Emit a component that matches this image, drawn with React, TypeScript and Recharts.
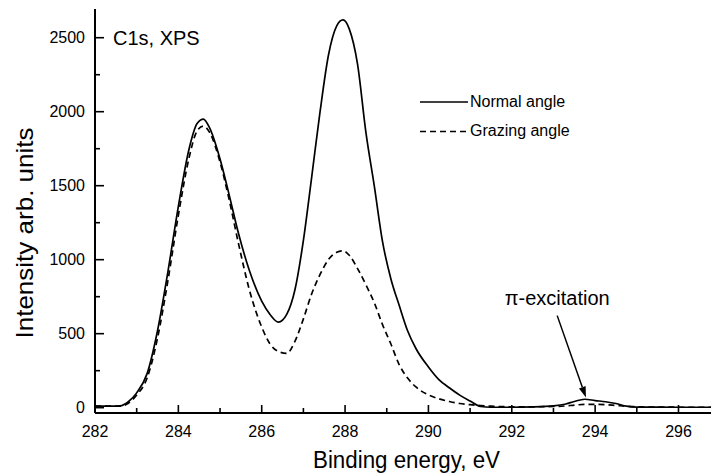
import React from 'react';
import { ComposedChart, Line, XAxis, YAxis, Legend, ReferenceLine } from 'recharts';

// ---- data ----
const energies = [282.0, 282.4, 282.6, 282.8, 283.0, 283.25, 283.5, 283.75, 284.0, 284.25, 284.45, 284.6, 284.75, 285.0, 285.2, 285.45, 285.7, 286.0, 286.2, 286.4, 286.6, 286.8, 287.0, 287.2, 287.4, 287.6, 287.8, 287.95, 288.1, 288.3, 288.5, 288.7, 288.9, 289.1, 289.3, 289.5, 289.7, 290.0, 290.25, 290.5, 290.75, 291.0, 291.25, 291.5, 292.0, 292.5, 293.0, 293.3, 293.5, 293.75, 294.0, 294.25, 294.5, 294.75, 295.0, 295.5, 296.0, 296.78];
const normalAngle = [10, 10, 12, 40, 100, 230, 520, 920, 1360, 1740, 1920, 1950, 1890, 1680, 1460, 1170, 930, 720, 630, 578, 630, 800, 1130, 1560, 2000, 2380, 2580, 2620, 2560, 2320, 1860, 1500, 1120, 870, 690, 520, 400, 275, 190, 135, 85, 45, 8, 3, 3, 5, 12, 25, 42, 57, 48, 40, 28, 10, 4, 4, 3, 3];
const grazingAngle = [10, 10, 10, 30, 85, 200, 470, 860, 1300, 1680, 1870, 1903, 1860, 1660, 1430, 1100, 800, 545, 430, 380, 367, 450, 600, 770, 900, 1000, 1050, 1060, 1030, 940, 830, 710, 560, 430, 290, 200, 140, 86, 60, 42, 28, 20, 14, 10, 6, 6, 8, 12, 17, 22, 22, 20, 15, 10, 6, 4, 3, 3];

const xTicks = [282, 283, 284, 285, 286, 287, 288, 289, 290, 291, 292, 293, 294, 295, 296];
const xLabeled = [282, 284, 286, 288, 290, 292, 294, 296];
const yTicks = [0, 250, 500, 750, 1000, 1250, 1500, 1750, 2000, 2250, 2500];
const yLabeled = [0, 500, 1000, 1500, 2000, 2500];

const xDomain: [number, number] = [282, 296.78];
const yDomain: [number, number] = [-36, 2694];

const arrowFrom = { e: 293.09, v: 622 };
const arrowTo = { e: 293.78, v: 68 };
const annotationText = 'π-excitation';
const titleText = 'C1s, XPS';

const series = [
  { key: 'normal', name: 'Normal angle', dash: undefined as string | undefined },
  { key: 'grazing', name: 'Grazing angle', dash: '6 4' },
];

const data = energies.map((e, i) => ({ e, normal: normalAngle[i], grazing: grazingAngle[i] }));

const FONT = '"Liberation Sans", Arial, Helvetica, sans-serif';

const YTick = (props: any) => {
  const { x, y, payload } = props;
  const major = yLabeled.includes(payload.value);
  return (
    <g>
      <line x1={x} y1={y} x2={x + (major ? 9 : 5)} y2={y} stroke="#000" strokeWidth={1.6} />
      {major && (
        <text x={x - 10} y={y} dy="0.36em" textAnchor="end" fontSize={16} fontFamily={FONT} fill="#000">
          {payload.value}
        </text>
      )}
    </g>
  );
};

const XTick = (props: any) => {
  const { x, y, payload } = props;
  const major = xLabeled.includes(payload.value);
  return (
    <g>
      <line x1={x} y1={y} x2={x} y2={y - (major ? 8 : 5)} stroke="#000" strokeWidth={1.6} />
      {major && (
        <text x={x} y={y + 24} textAnchor="middle" fontSize={16} fontFamily={FONT} fill="#000">
          {payload.value}
        </text>
      )}
    </g>
  );
};

const XTitle = (props: any) => {
  const vb = props.viewBox || {};
  return (
    <text x={vb.x + 311.5} y={vb.y + 55} textAnchor="middle" fontSize={23} fontFamily={FONT} fill="#000"
      textLength={187} lengthAdjust="spacingAndGlyphs">
      Binding energy, eV
    </text>
  );
};

const YTitle = (props: any) => {
  const vb = props.viewBox || {};
  const cx = vb.x + 33;
  const cy = vb.y + vb.height / 2 + 22;
  return (
    <text x={cx} y={cy} transform={`rotate(-90 ${cx} ${cy})`} textAnchor="middle" fontSize={24} fontFamily={FONT}
      fill="#000" textLength={211} lengthAdjust="spacingAndGlyphs">
      Intensity arb. units
    </text>
  );
};

const ArrowShape = (props: any) => {
  const { x1, y1, x2, y2 } = props;
  if ([x1, y1, x2, y2].some((v) => typeof v !== 'number' || isNaN(v))) return null;
  const dx = x2 - x1;
  const dy = y2 - y1;
  const len = Math.sqrt(dx * dx + dy * dy) || 1;
  const ux = dx / len;
  const uy = dy / len;
  const hl = 11;
  const hw = 3.5;
  const bx = x2 - ux * hl;
  const by = y2 - uy * hl;
  const pts = `${x2},${y2} ${bx - uy * hw},${by + ux * hw} ${bx + uy * hw},${by - ux * hw}`;
  return (
    <g>
      <line x1={x1} y1={y1} x2={bx} y2={by} stroke="#000" strokeWidth={1.5} />
      <polygon points={pts} fill="#000" />
      <text x={x1} y={y1 - 11} textAnchor="middle" fontSize={20} fontFamily={FONT} fill="#000">
        {annotationText}
      </text>
    </g>
  );
};

const renderLegend = (props: any) => {
  const payload = props.payload || [];
  return (
    <svg width={200} height={56} style={{ display: 'block', overflow: 'visible' }}>
      {series.map((s, i) => {
        const ly = 12 + i * 29.5;
        const ty = 17 + i * 28.8;
        const entry = payload.find((p: any) => p.dataKey === s.key);
        return (
          <g key={s.key}>
            <line x1={2} y1={ly} x2={50} y2={ly} stroke="#000" strokeWidth={1.6} strokeDasharray={s.dash} />
            <text x={52} y={ty} fontSize={16} fontFamily={FONT} fill="#000">
              {entry ? entry.value : s.name}
            </text>
          </g>
        );
      })}
    </svg>
  );
};

export default function App() {
  return (
    <div style={{ position: 'absolute', left: 0, top: 0, width: 711, height: 473, background: '#fff' }}>
      <ComposedChart width={711} height={473} data={data} margin={{ top: 9, right: 0, bottom: 0, left: 0 }}>
        <XAxis
          dataKey="e"
          type="number"
          domain={xDomain}
          allowDataOverflow
          ticks={xTicks}
          interval={0}
          tick={<XTick />}
          tickLine={false}
          tickSize={0}
          tickMargin={0}
          height={60}
          axisLine={{ stroke: '#000', strokeWidth: 2 }}
          label={<XTitle />}
        />
        <XAxis
          xAxisId="top"
          orientation="top"
          dataKey="e"
          type="number"
          domain={xDomain}
          allowDataOverflow
          tick={false}
          tickLine={false}
          height={0}
          axisLine={{ stroke: '#000', strokeWidth: 2 }}
        />
        <YAxis
          type="number"
          domain={yDomain}
          allowDataOverflow
          ticks={yTicks}
          interval={0}
          tick={<YTick />}
          tickLine={false}
          tickSize={0}
          tickMargin={0}
          width={95}
          axisLine={{ stroke: '#000', strokeWidth: 2 }}
          label={<YTitle />}
        />
        <Legend
          content={renderLegend}
          layout="horizontal"
          verticalAlign="middle"
          align="center"
          wrapperStyle={{ left: 418, top: 90, width: 200, height: 56 }}
        />
        {series.map((s) => (
          <Line
            key={s.key}
            dataKey={s.key}
            name={s.name}
            type="monotone"
            stroke="#000"
            strokeWidth={1.7}
            strokeDasharray={s.dash}
            dot={false}
            activeDot={false}
            isAnimationActive={false}
          />
        ))}
        <ReferenceLine
          segment={[{ x: arrowFrom.e, y: arrowFrom.v }, { x: arrowTo.e, y: arrowTo.v }]}
          shape={ArrowShape}
          stroke="#000"
        />
      </ComposedChart>
      <svg width={200} height={60} style={{ position: 'absolute', left: 95, top: 0, pointerEvents: 'none' }}>
        <text x={18} y={45} fontSize={20} fontFamily={FONT} fill="#000">
          {titleText}
        </text>
      </svg>
    </div>
  );
}
